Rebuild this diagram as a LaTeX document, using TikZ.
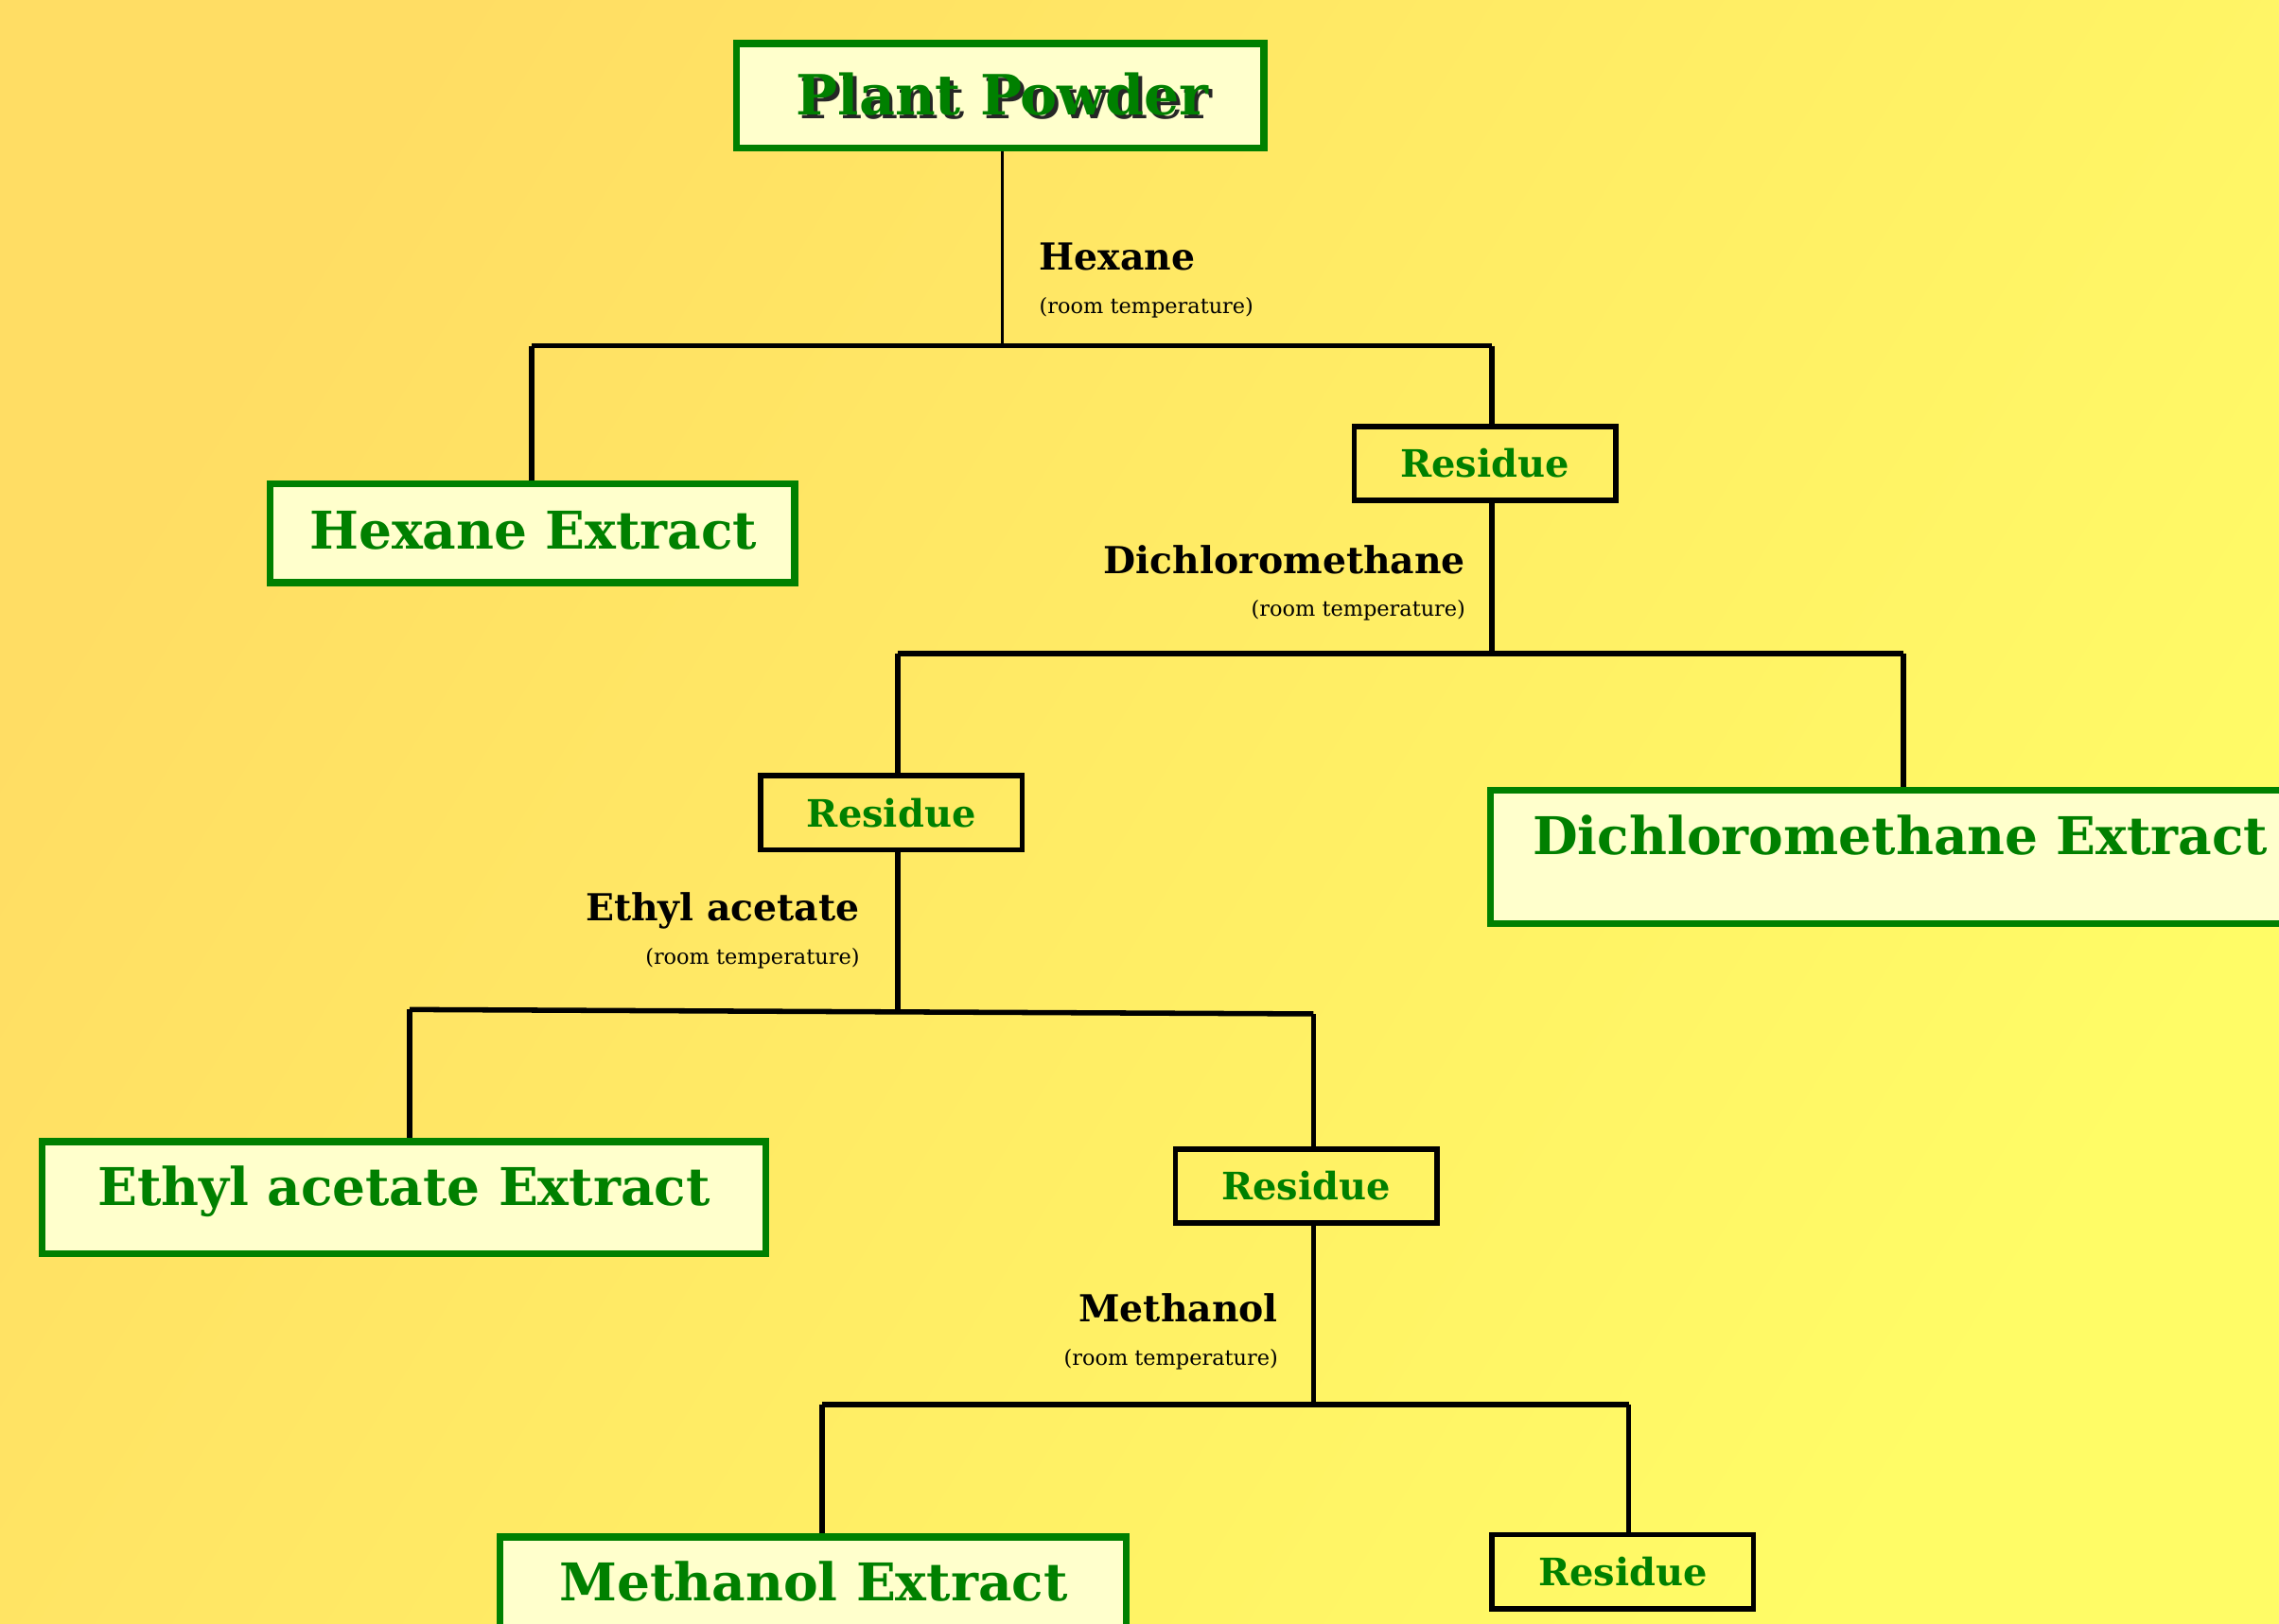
\documentclass[tikz,border=0pt]{standalone}
\usepackage{fontspec}
\setmainfont{DejaVu Serif}
\definecolor{grn}{RGB}{0,128,0}
\definecolor{boxfill}{RGB}{255,255,204}
\definecolor{bgA}{RGB}{255,221,100}
\definecolor{bgB}{RGB}{255,252,102}
\begin{document}
\begin{tikzpicture}[x=0.5pt,y=-0.5pt,
  greenbox/.style={draw=grn, line width=2.4pt, fill=boxfill, inner sep=0pt},
  resbox/.style={draw=black, line width=1.8pt, inner sep=0pt, minimum width=90pt, minimum height=25.5pt,
    font=\bfseries\fontsize{13}{14}\selectfont, text=grn},
  bigtxt/.style={font=\bfseries\fontsize{17.9}{20}\selectfont, text=grn, inner sep=0pt, anchor=base},
  pptxt/.style={font=\bfseries\fontsize{19.1}{22}\selectfont, inner sep=0pt, anchor=base},
  conn/.style={line width=1.8pt, black},
  solv/.style={font=\bfseries\fontsize{12.8}{14}\selectfont, inner sep=0pt},
  cond/.style={font=\fontsize{7.3}{9}\selectfont, inner sep=0pt}]
\useasboundingbox (0,0) rectangle (1568.6,1118);
\shade[top color=bgA, bottom color=bgB, shading angle=58] (0,0) rectangle (1568.6,1118);

% boxes
\node[greenbox, minimum width=181.5pt, minimum height=36pt] (pp) at (688.5,66) {};
\node[greenbox, minimum width=180.5pt, minimum height=34pt] (hexBox) at (366.5,367) {};
\node[greenbox, minimum width=297pt, minimum height=46pt] (dcmBox) at (1323,590) {};
\node[greenbox, minimum width=249pt, minimum height=38.5pt] (eaBox) at (278,824.5) {};
\node[greenbox, minimum width=215.5pt, minimum height=41pt] (meBox) at (559.5,1099) {};

\node[resbox] (res1) at (1022,319) {Residue};
\node[resbox] (res2) at (613.5,559.5) {Residue};
\node[resbox] (res3) at (899,816.5) {Residue};
\node[resbox] (res4) at (1117,1082) {Residue};

% box texts
\node[pptxt, text=black!85] (ppShadow) at (692.5,81.5) {Plant Powder};
\node[pptxt, text=grn] (ppText) at (690,79) {Plant Powder};
\node[bigtxt] (hexText) at (367,378) {Hexane Extract};
\node[bigtxt] (dcmText) at (1308,588) {Dichloromethane Extract};
\node[bigtxt] (eaText) at (278,830) {Ethyl acetate Extract};
\node[bigtxt] (meText) at (560,1102) {Methanol Extract};

% solvent labels
\node[solv, anchor=base west] (hexLbl) at (715,186) {Hexane};
\node[cond, anchor=base west] (hexCond) at (715,216) {(room temperature)};
\node[solv, anchor=base east] (dcmLbl) at (1009,395) {Dichloromethane};
\node[cond, anchor=base east] (dcmCond) at (1009,424) {(room temperature)};
\node[solv, anchor=base east] (eaLbl) at (592,634) {Ethyl acetate};
\node[cond, anchor=base east] (eaCond) at (592,664) {(room temperature)};
\node[solv, anchor=base east] (meLbl) at (880,910) {Methanol};
\node[cond, anchor=base east] (meCond) at (880,940) {(room temperature)};

% junctions
\coordinate (j1) at (690,238);
\coordinate (j1L) at (366,238);
\coordinate (j1R) at (1027,238);
\coordinate (j2) at (1027,450);
\coordinate (j2L) at (618,450);
\coordinate (j2R) at (1310,450);
\coordinate (j3) at (618,696);
\coordinate (j3L) at (282,695);
\coordinate (j3R) at (904,698);
\coordinate (j4) at (904,967);
\coordinate (j4L) at (566,967);
\coordinate (j4R) at (1121,967);

% connectors
\draw[conn, line width=1.1pt] (pp.south -| j1) -- (j1);
\draw[conn] (j1L) -- (j1R);
\draw[conn] (j1L) -- (j1L |- hexBox.north);
\draw[conn] (j1R) -- (j1R |- res1.north);

\draw[conn] (res1.south -| j2) -- (j2);
\draw[conn] (j2L) -- (j2R);
\draw[conn] (j2L) -- (j2L |- res2.north);
\draw[conn] (j2R) -- (j2R |- dcmBox.north);

\draw[conn] (res2.south -| j3) -- (j3);
\draw[conn] (j3L) -- (j3R);
\draw[conn] (j3L) -- (j3L |- eaBox.north);
\draw[conn] (j3R) -- (j3R |- res3.north);

\draw[conn] (res3.south -| j4) -- (j4);
\draw[conn] (j4L) -- (j4R);
\draw[conn] (j4L) -- (j4L |- meBox.north);
\draw[conn] (j4R) -- (j4R |- res4.north);
\end{tikzpicture}
\end{document}
